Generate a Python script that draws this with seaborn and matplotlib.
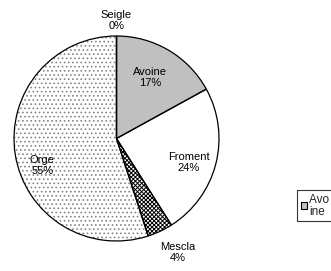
import numpy as np
import matplotlib
matplotlib.use('Agg')
import matplotlib.pyplot as plt
from matplotlib.patches import Patch
import seaborn as sns

# Crop shares (percent), clockwise from the top
categories = ['Seigle', 'Avoine', 'Froment', 'Mescla', 'Orge']
shares = [0, 17, 24, 4, 55]
pct_labels = ['0%', '17%', '24%', '4%', '55%']

sns.set_theme(style='white')
plt.rcParams['font.family'] = ['Liberation Sans', 'DejaVu Sans']
plt.rcParams['hatch.linewidth'] = 0.7

fig = plt.figure(figsize=(3.31, 2.71), dpi=100)
ax = fig.add_axes([14 / 331, 1 - 241 / 271, 205 / 331, 205 / 271])

face = ['#c0c0c0', '#c0c0c0', 'white', 'white', 'white']
hatches = ['', '', '', 'xxxxxxxx', '....']
hatch_col = ['black', 'black', 'black', 'black', '#858585']

# fill + hatch layer
wedges, _ = ax.pie(shares, startangle=90, counterclock=False, colors=face,
                   wedgeprops=dict(linewidth=0))
for w, h, hc in zip(wedges, hatches, hatch_col):
    w.set_hatch(h)
    w.set_edgecolor(hc)
    w.set_linewidth(0)
# outline layer
ax.pie(shares, startangle=90, counterclock=False,
       wedgeprops=dict(fill=False, edgecolor='black', linewidth=0.9))

# label placement: distance from centre and angle nudge per slice
dist = [1.15, 0.68, 0.74, 1.26, 0.77]
nudge = [0, 2, -4, 3, 11]
for w, cat, pl, d, n in zip(wedges, categories, pct_labels, dist, nudge):
    ang = np.deg2rad((w.theta1 + w.theta2) / 2 + n)
    ax.text(d * np.cos(ang), d * np.sin(ang), f'{cat}\n{pl}', ha='center',
            va='center', fontsize=8, linespacing=1.1, color='black', zorder=5)
ax.set_xlim(-1, 1)
ax.set_ylim(-1, 1)
ax.set_aspect('equal')
ax.axis('off')

# legend squeezed at the right edge, clipped like the original
leg = fig.legend(handles=[Patch(facecolor='#c0c0c0', edgecolor='black', linewidth=0.8)],
                 labels=['Avo      \nine'], loc='upper left',
                 bbox_to_anchor=(297 / 331, 1 - 190 / 271), fontsize=8.5,
                 frameon=True, fancybox=False, edgecolor='black',
                 handlelength=0.55, handleheight=0.55, handletextpad=0.15,
                 borderpad=0.3, borderaxespad=0, labelspacing=0.2)
leg.get_frame().set_linewidth(0.8)
for t in leg.get_texts():
    t.set_linespacing(1.0)

fig.savefig('out.png', dpi=100)
